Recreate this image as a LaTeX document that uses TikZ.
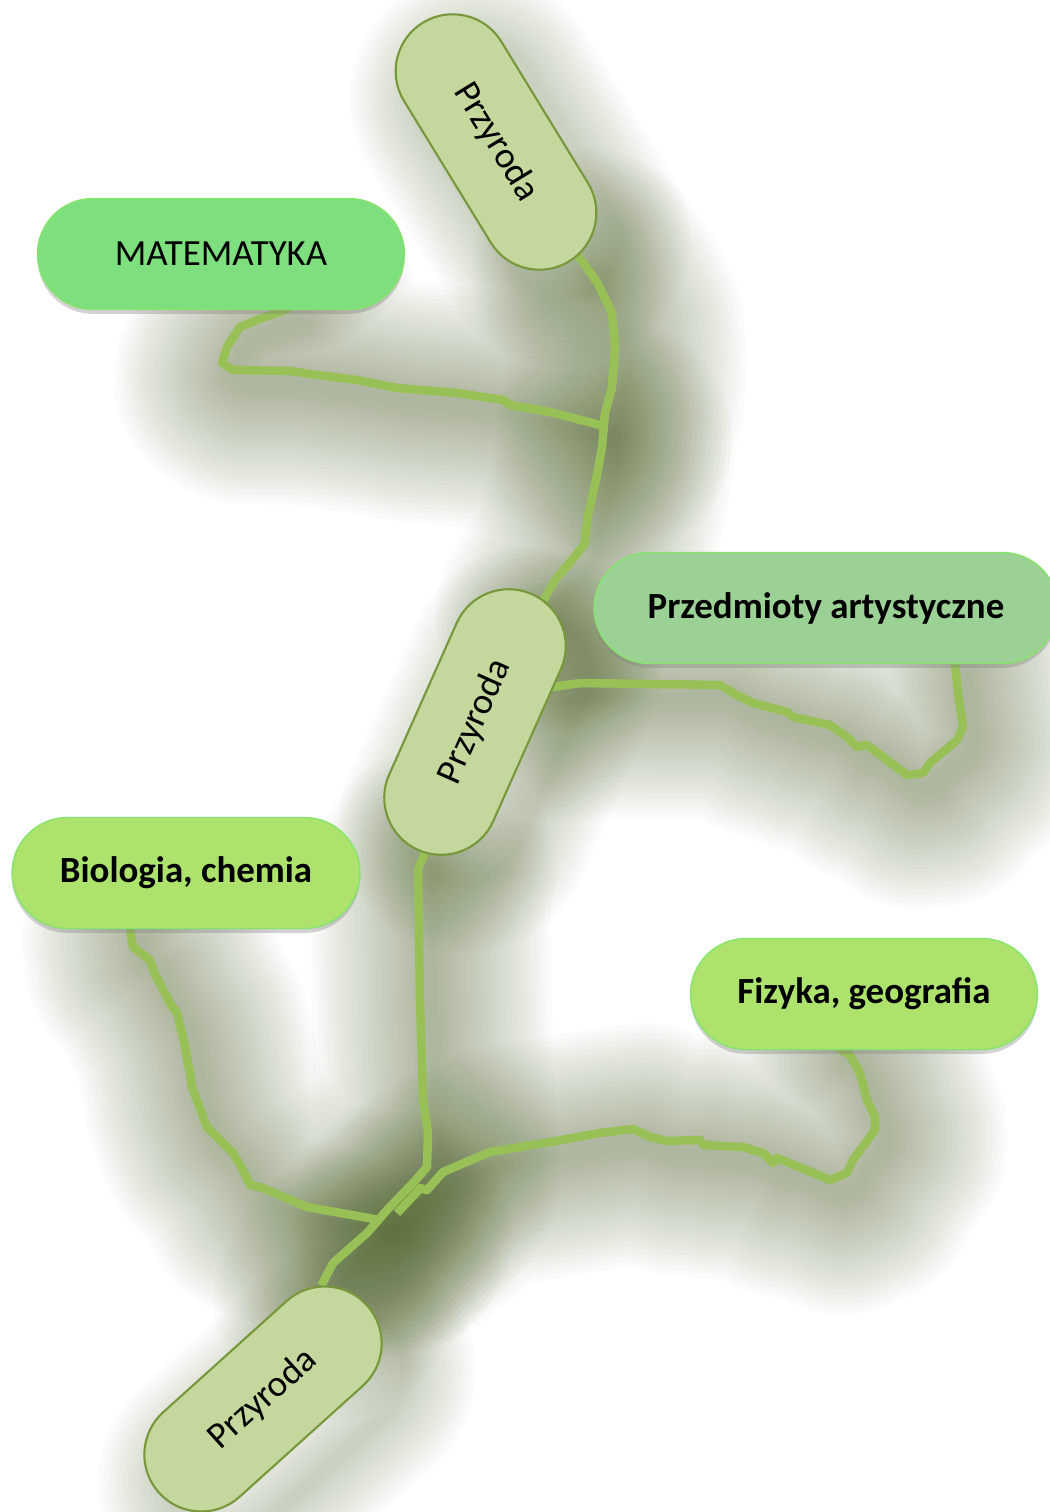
\documentclass[tikz,border=0pt]{standalone}
\usepackage{fontspec}
\setmainfont{Carlito}
\usetikzlibrary{positioning, shapes.misc, shadows, calc}

\definecolor{pillgreen}{HTML}{C4D89E}
\definecolor{pilledge}{HTML}{76983A}
\definecolor{matgreen}{HTML}{7EDF7E}
\definecolor{artgreen}{HTML}{9BD195}
\definecolor{limegreen}{HTML}{ADE36C}
\definecolor{brightedge}{HTML}{86E46C}
\definecolor{linegreen}{HTML}{98C057}
\definecolor{shade}{HTML}{3E5615}

\pgfdeclarelayer{glow}
\pgfdeclarelayer{lines}
\pgfsetlayers{glow,lines,main}

% wiggly links, in pixel units (y grows downwards)
\newcommand\linkA{(p1) -- (597,282) -- (612,313) -- (615,347) -- (612,387) -- (605,413) -- (602,447) -- (596,480) -- (588,515) -- (584,545) -- (572,560) -- (555,580) -- (p2)}
\newcommand\linkM{($(mat.south)+(69,-2)$) -- (262,318) -- (240,327) -- (227,347) -- (222,363) -- (233,370) -- (290,371) -- (310,374) -- (357,380) -- (397,388) -- (457,393) -- (503,400) -- (510,405) -- (550,412) -- (jm)}
\newcommand\linkArt{(p2) -- (553,687) -- (580,683) -- (720,685) -- (733,693) -- (753,703) -- (787,712) -- (793,717) -- (830,725) -- (847,737) -- (857,747) -- (867,745) -- (907,775) -- (923,773) -- (930,763) -- (957,740) -- (963,727) -- (958,693) -- ($(art.south)+(129,-2)$)}
\newcommand\linkD{(p2) -- (418,870) -- (420,1000) -- (423,1100) -- (428,1133) -- (427,1167) -- (413,1183) -- (387,1210) -- (367,1233) -- (333,1263) -- (p3)}
\newcommand\linkB{($(bio.south)+(-56,-2)$) -- (133,947) -- (150,960) -- (153,970) -- (170,1003) -- (177,1013) -- (183,1037) -- (190,1073) -- (192,1087) -- (207,1127) -- (233,1153) -- (243,1170) -- (250,1185) -- (263,1188) -- (307,1207) -- (jb)}
\newcommand\linkF{(jf) -- (417,1192) -- (420,1188) -- (427,1190) -- (443,1172) -- (490,1152) -- (550,1142) -- (600,1133) -- (633,1129) -- (650,1137) -- (667,1141) -- (700,1140) -- (703,1145) -- (743,1147) -- (763,1153) -- (773,1163) -- (777,1158) -- (830,1180) -- (847,1173) -- (853,1160) -- (875,1130) -- (875,1117) -- (867,1100) -- (860,1073) -- (850,1055) -- ($(fiz.south)+(-27,-3)$)}

\begin{document}
\begin{tikzpicture}[
    x=0.02cm, y=-0.02cm,
    przy/.style={rounded rectangle, draw=pilledge, fill=pillgreen, line width=1.2pt,
                 minimum width=5.6cm, minimum height=2.28cm, inner sep=0pt,
                 font=\fontsize{21}{25}\selectfont},
    subj/.style={rounded rectangle, draw=brightedge, line width=0.8pt, minimum height=2.22cm,
                 inner sep=0pt, font=\fontsize{21}{25}\selectfont\bfseries,
                 drop shadow={shadow xshift=0pt, shadow yshift=-2.5pt, opacity=0.35}},
    link/.style={draw=linegreen, line width=0.17cm, line join=round},
    halo/.style={draw=shade, draw opacity=0.02, fill=none, line join=round, line cap=round,
                 transform canvas={xshift=0.24cm, yshift=-0.28cm}}
]
\useasboundingbox (0,0) rectangle (1050,1512);

\node[subj, fill=matgreen, minimum width=7.34cm, font=\fontsize{21}{25}\selectfont] (mat) at (221,254) {MATEMATYKA};
\node[subj, fill=artgreen, minimum width=9.28cm] (art) at (826,608) {Przedmioty artystyczne};
\node[subj, fill=limegreen, minimum width=6.96cm] (bio) at (186,873) {Biologia, chemia};
\node[subj, fill=limegreen, minimum width=6.94cm] (fiz) at (864,994) {Fizyka, geografia};

\node[przy, rotate=-58.5] (p1) at (496,142) {Przyroda};
\node[przy, rotate=66]    (p2) at (475,722) {Przyroda};
\node[przy, rotate=42]    (p3) at (263,1399) {Przyroda};

\coordinate (jm) at (600,425);
\coordinate (jb) at (380,1220);
\coordinate (jf) at (397,1213);

\begin{pgfonlayer}{lines}
\draw[link] \linkA;
\draw[link] \linkM;
\draw[link] \linkArt;
\draw[link] \linkD;
\draw[link] \linkB;
\draw[link] \linkF;
\end{pgfonlayer}

% soft shadow round the links
\begin{pgfonlayer}{glow}
\fill[white] (0,0) rectangle (1050,1512);
\foreach \w in {10,20,...,240}{
  \pgfmathsetmacro\lw{\w*0.02}
  \draw[halo, line width=\lw cm] \linkA;
  \draw[halo, line width=\lw cm] \linkM;
  \draw[halo, line width=\lw cm] \linkArt;
  \draw[halo, line width=\lw cm] \linkD;
  \draw[halo, line width=\lw cm] \linkB;
  \draw[halo, line width=\lw cm] \linkF;
}
\foreach \w in {10,20,...,140}{
  \pgfmathsetmacro\lw{\w*0.02}
  \foreach \p/\a in {p1/-58.5, p2/66, p3/42}
    \node[przy, halo, line width=\lw cm, rotate=\a] at (\p) {};
}
\end{pgfonlayer}
\end{tikzpicture}
\end{document}
